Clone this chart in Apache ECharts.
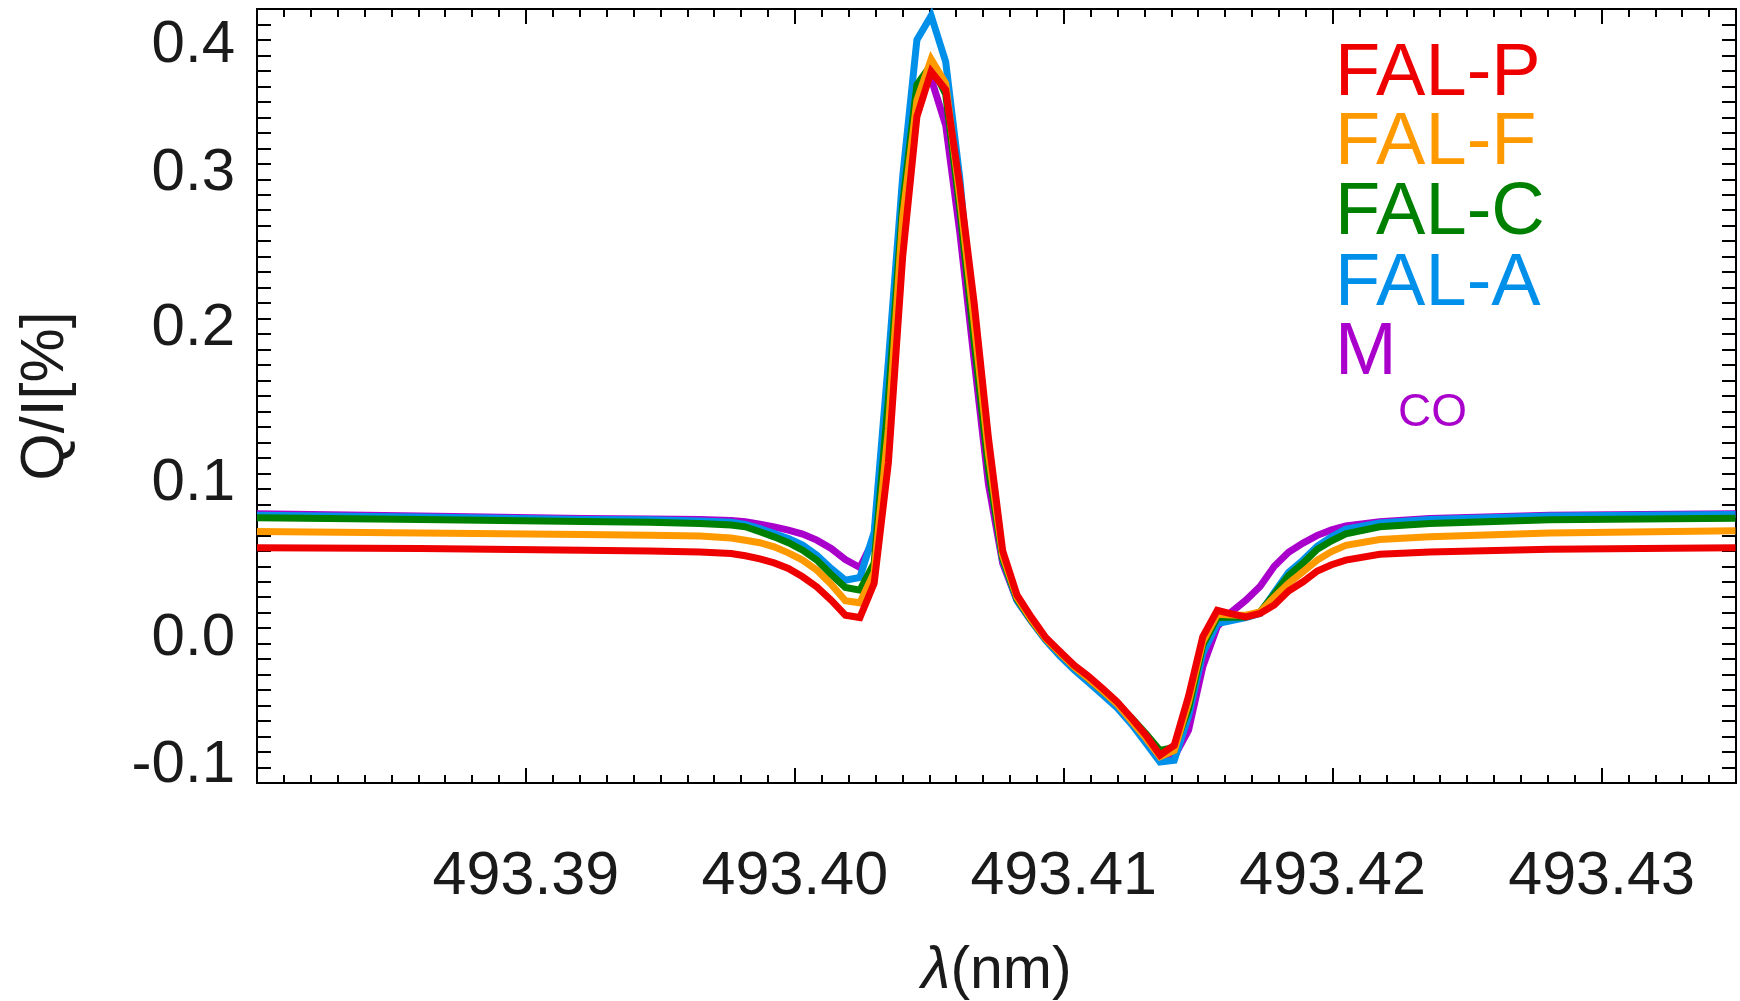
<!DOCTYPE html>
<html>
<head>
<meta charset="utf-8">
<script src="https://cdn.jsdelivr.net/npm/echarts@6/dist/echarts.min.js"></script>
<style>
html,body{margin:0;padding:0;background:#fff;}
#chart{width:1740px;height:1001px;}
</style>
</head>
<body>
<div id="chart"></div>
<script>
// Wavelength grid (nm)
var lambda = [
  493.38000, 493.38606, 493.39212, 493.39461, 493.39647, 493.39763, 493.39816, 493.39870,
  493.39923, 493.39976, 493.40029, 493.40082, 493.40135, 493.40188, 493.40242, 493.40295,
  493.40348, 493.40401, 493.40454, 493.40507, 493.40561, 493.40614, 493.40667, 493.40720,
  493.40773, 493.40826, 493.40880, 493.40933, 493.40986, 493.41039, 493.41092, 493.41145,
  493.41199, 493.41252, 493.41305, 493.41358, 493.41411, 493.41464, 493.41517, 493.41571,
  493.41624, 493.41677, 493.41730, 493.41783, 493.41836, 493.41890, 493.41943, 493.41996,
  493.42049, 493.42175, 493.42361, 493.42807, 493.43498
];
// Q/I [%] for each atmosphere model
var falP = [
  0.0520, 0.0515, 0.0504, 0.0499, 0.0493, 0.0482, 0.0468, 0.0448,
  0.0422, 0.0386, 0.0332, 0.0267, 0.0181, 0.0084, 0.0069, 0.0290,
  0.1070, 0.2400, 0.3305, 0.3596, 0.3478, 0.2850, 0.2100, 0.1230,
  0.0500, 0.0215, 0.0070, -0.0060, -0.0150, -0.0240, -0.0310, -0.0390,
  -0.0476, -0.0580, -0.0690, -0.0820, -0.0756, -0.0440, -0.0056, 0.0116,
  0.0092, 0.0073, 0.0095, 0.0150, 0.0240, 0.0300, 0.0370, 0.0410,
  0.0440, 0.0478, 0.0493, 0.0510, 0.0520
];
var falF = [
  0.0625, 0.0615, 0.0605, 0.0600, 0.0595, 0.0582, 0.0568, 0.0552,
  0.0526, 0.0487, 0.0440, 0.0375, 0.0284, 0.0177, 0.0164, 0.0360,
  0.1290, 0.2650, 0.3410, 0.3676, 0.3520, 0.2780, 0.1970, 0.1130,
  0.0470, 0.0200, 0.0055, -0.0068, -0.0160, -0.0250, -0.0325, -0.0405,
  -0.0490, -0.0600, -0.0710, -0.0830, -0.0790, -0.0480, -0.0088, 0.0090,
  0.0085, 0.0084, 0.0105, 0.0200, 0.0290, 0.0365, 0.0440, 0.0495,
  0.0535, 0.0573, 0.0590, 0.0615, 0.0630
];
var falC = [
  0.0713, 0.0703, 0.0690, 0.0685, 0.0677, 0.0667, 0.0655, 0.0623,
  0.0590, 0.0552, 0.0504, 0.0440, 0.0347, 0.0263, 0.0246, 0.0420,
  0.1480, 0.2740, 0.3510, 0.3640, 0.3450, 0.2700, 0.1850, 0.1030,
  0.0450, 0.0190, 0.0050, -0.0070, -0.0160, -0.0250, -0.0325, -0.0405,
  -0.0488, -0.0580, -0.0680, -0.0790, -0.0770, -0.0520, -0.0110, 0.0069,
  0.0070, 0.0073, 0.0105, 0.0220, 0.0340, 0.0420, 0.0510, 0.0565,
  0.0610, 0.0655, 0.0677, 0.0700, 0.0710
];
var falA = [
  0.0730, 0.0718, 0.0703, 0.0700, 0.0693, 0.0684, 0.0670, 0.0644,
  0.0612, 0.0580, 0.0537, 0.0472, 0.0386, 0.0310, 0.0328, 0.0620,
  0.1726, 0.2915, 0.3800, 0.3956, 0.3660, 0.2900, 0.1900, 0.1050,
  0.0440, 0.0180, 0.0045, -0.0078, -0.0180, -0.0270, -0.0350, -0.0430,
  -0.0515, -0.0620, -0.0740, -0.0864, -0.0853, -0.0570, -0.0164, 0.0030,
  0.0050, 0.0068, 0.0095, 0.0230, 0.0360, 0.0440, 0.0530, 0.0590,
  0.0640, 0.0680, 0.0703, 0.0725, 0.0735
];
var mCO = [
  0.0740, 0.0725, 0.0708, 0.0706, 0.0703, 0.0696, 0.0688, 0.0672,
  0.0655, 0.0633, 0.0608, 0.0569, 0.0515, 0.0444, 0.0392, 0.0580,
  0.1600, 0.2800, 0.3480, 0.3550, 0.3250, 0.2550, 0.1730, 0.0930,
  0.0420, 0.0180, 0.0045, -0.0075, -0.0175, -0.0265, -0.0340, -0.0420,
  -0.0505, -0.0610, -0.0730, -0.0850, -0.0830, -0.0660, -0.0250, 0.0010,
  0.0105, 0.0180, 0.0270, 0.0400, 0.0490, 0.0550, 0.0600, 0.0635,
  0.0660, 0.0687, 0.0709, 0.0730, 0.0740
];
var seriesNames = ['M_CO', 'FAL-A', 'FAL-C', 'FAL-F', 'FAL-P'];
var seriesColors = ['#aa00cc', '#0090ea', '#008000', '#ff9900', '#ee0000'];
var seriesValues = [mCO, falA, falC, falF, falP];
var yTickLabels = ['-0.1', '0.0', '0.1', '0.2', '0.3', '0.4'];

var FONT = '"Liberation Sans", Helvetica, Arial, sans-serif';
var TXT = '#1a1a1a';
var XMIN = 493.38, XMAX = 493.435;

function pairs(vals) {
  return lambda.map(function (x, i) { return [x, vals[i]]; });
}

var series = seriesNames.map(function (n, i) {
  return {
    name: n, type: 'line', xAxisIndex: 0, yAxisIndex: 0,
    data: pairs(seriesValues[i]), showSymbol: false, symbol: 'none',
    lineStyle: { color: seriesColors[i], width: 7, join: 'miter' },
    itemStyle: { color: seriesColors[i] },
    animation: false, z: 2 + i
  };
});

var lineStyle = { show: true, onZero: false, lineStyle: { color: '#000', width: 2 } };

function xAxisDef(pos, interval, tickLen, showLabel, name) {
  var a = {
    type: 'value', position: pos, min: XMIN, max: XMAX, interval: interval,
    axisLine: lineStyle, splitLine: { show: false },
    axisTick: { show: true, inside: true, length: tickLen, lineStyle: { color: '#000', width: 2 } },
    axisLabel: { show: false }
  };
  if (showLabel) {
    a.axisLabel = {
      show: true, margin: 64, fontSize: 61, fontFamily: FONT, color: TXT,
      formatter: function (v) {
        if (Math.abs(v - XMIN) < 1e-6 || v > 493.432) return '';
        return v.toFixed(2);
      }
    };
  }
  if (name) {
    a.name = '{i|λ}{n|(nm)}';
    a.nameLocation = 'middle';
    a.nameGap = 159;
    a.nameTextStyle = {
      color: TXT, fontFamily: FONT, fontSize: 59,
      rich: {
        i: { fontSize: 59, fontStyle: 'italic', fontFamily: FONT, color: TXT },
        n: { fontSize: 59, fontFamily: FONT, color: TXT }
      }
    };
  }
  return a;
}

function yAxisDef(pos, showLabel) {
  var a = {
    type: 'value', position: pos, min: -0.1, max: 0.4, interval: 0.1,
    axisLine: lineStyle, splitLine: { show: false },
    axisTick: { show: true, inside: true, length: 14, lineStyle: { color: '#000', width: 2 } },
    minorTick: { show: true, splitNumber: 10, length: 14, lineStyle: { color: '#000', width: 2 } },
    minorSplitLine: { show: false },
    axisLabel: { show: false }
  };
  if (showLabel) {
    a.axisLabel = {
      show: true, margin: 22, fontSize: 60, fontFamily: FONT, color: TXT,
      formatter: function (v) {
        var idx = Math.round((v + 0.1) / 0.1);
        var t = yTickLabels[idx];
        if (idx === 5) return '{top|' + t + '}';
        if (idx === 0) return '{bot|' + t + '}';
        return '{n|' + t + '}';
      },
      rich: {
        n: { fontSize: 60, fontFamily: FONT, color: TXT, padding: [20, 0, 0, 0] },
        top: { fontSize: 60, fontFamily: FONT, color: TXT, padding: [72, 0, 0, 0] },
        bot: { fontSize: 60, fontFamily: FONT, color: TXT, padding: [0, 0, 36, 0] }
      }
    };
    a.name = 'Q/I[%]';
    a.nameLocation = 'middle';
    a.nameRotate = 90;
    a.nameGap = 180;
    a.nameTextStyle = { color: TXT, fontFamily: FONT, fontSize: 61 };
  }
  return a;
}

var legendItems = [
  { text: 'FAL-P', color: '#ee0000', y: 75 },
  { text: 'FAL-F', color: '#ff9900', y: 144 },
  { text: 'FAL-C', color: '#008000', y: 214 },
  { text: 'FAL-A', color: '#0090ea', y: 285 },
  { text: 'M', color: '#aa00cc', y: 354 }
];
var graphics = legendItems.map(function (it) {
  return {
    type: 'text', x: 1335, y: it.y, z: 100,
    style: { text: it.text, fill: it.color, fontSize: 74, fontFamily: FONT,
             textAlign: 'left', textVerticalAlign: 'middle' }
  };
});
graphics.push({
  type: 'text', x: 1398, y: 413, z: 100,
  style: { text: 'CO', fill: '#aa00cc', fontSize: 46, fontFamily: FONT,
           textAlign: 'left', textVerticalAlign: 'middle' }
});

var option = {
  backgroundColor: '#fff',
  animation: false,
  grid: { left: 257, right: 4, top: 9, bottom: 218, containLabel: false, outerBoundsMode: 'none' },
  xAxis: [
    xAxisDef('bottom', 0.01, 15, true, true),
    xAxisDef('bottom', 0.001, 8, false, false),
    xAxisDef('top', 0.01, 15, false, false),
    xAxisDef('top', 0.001, 8, false, false)
  ],
  yAxis: [
    yAxisDef('left', true),
    yAxisDef('right', false)
  ],
  series: series,
  graphic: graphics
};

var chart = echarts.init(document.getElementById('chart'), null, { renderer: 'canvas' });
chart.setOption(option);
</script>
</body>
</html>
